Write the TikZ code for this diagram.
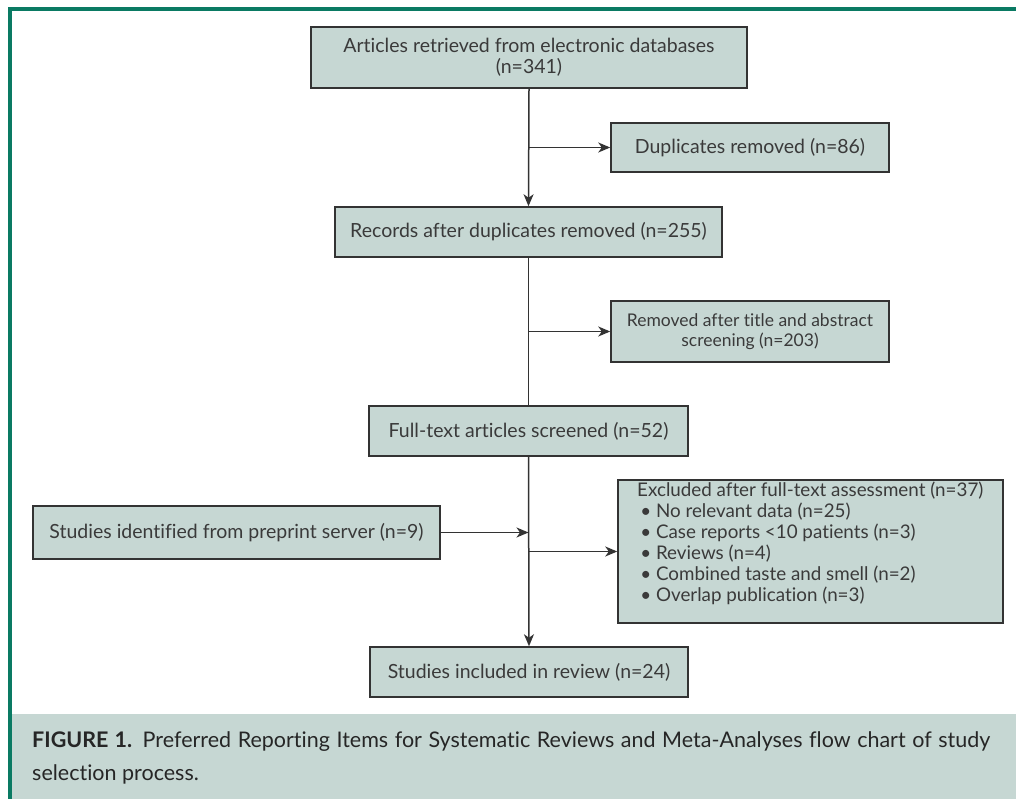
\documentclass[tikz,border=0pt]{standalone}
\usepackage{fontspec}
\setmainfont{Lato}[Ligatures=NoCommon]
\usetikzlibrary{arrows.meta}
\definecolor{boxfill}{HTML}{C6D7D3}
\definecolor{frame}{HTML}{0A7A63}
\definecolor{txt}{HTML}{3A3A3A}
\definecolor{edge}{HTML}{333333}
\tikzset{
  flowbox/.style={draw=edge, line width=1.5pt, fill=boxfill, text=txt, inner sep=0pt,
    font=\fontsize{19.5}{21}\selectfont, align=center},
  conn/.style={draw=edge, line width=1.5pt},
  arr/.style={conn, -{Stealth[length=12pt,width=10pt,inset=3.5pt]}}
}
\begin{document}
\begin{tikzpicture}[x=1pt,y=-1pt]
\useasboundingbox (0,0) rectangle (1016,799);
% caption background
\fill[boxfill] (12,714) rectangle (1016,799);
% frame
\draw[frame, line width=4pt] (10,799) -- (10,9) -- (1016,9);
% boxes
\node[flowbox, minimum width=436pt, minimum height=61pt] (art) at (529,57.5)
  {Articles retrieved from electronic databases\\(n=341)};
\node[flowbox, minimum width=278pt, minimum height=49pt] (dup) at (750,147.5)
  {Duplicates removed (n=86)};
\node[flowbox, minimum width=387pt, minimum height=50pt] (rec) at (528.5,232)
  {Records after duplicates removed (n=255)};
\node[flowbox, minimum width=278pt, minimum height=61pt,
  font=\fontsize{17.5}{20}\selectfont] (rem) at (750,331.5)
  {Removed after title and abstract\\screening (n=203)};
\node[flowbox, minimum width=319pt, minimum height=50pt] (ft) at (528.5,431)
  {Full-text articles screened (n=52)};
\node[flowbox, minimum width=407pt, minimum height=53pt] (pre) at (236.5,532.5)
  {Studies identified from preprint server (n=9)};
\node[flowbox, minimum width=385pt, minimum height=143pt] (exc) at (810.5,551.5) {};
\node[anchor=north west, text=txt, align=left, inner sep=0pt,
  font=\fontsize{18.8}{21}\selectfont] (exct) at (637,482)
  {Excluded after full-text assessment (n=37)\\
   \,\textbullet\ No relevant data (n=25)\\
   \,\textbullet\ Case reports {<}10 patients (n=3)\\
   \,\textbullet\ Reviews (n=4)\\
   \,\textbullet\ Combined taste and smell (n=2)\\
   \,\textbullet\ Overlap publication (n=3)};
\node[flowbox, minimum width=318pt, minimum height=50pt] (inc) at (529,672)
  {Studies included in review (n=24)};
% junction coordinates
\coordinate (j1) at (art.south |- dup.west);
\coordinate (j2) at (rec.south |- rem.west);
\coordinate (j3) at (ft.south |- pre.east);
\coordinate (j4) at (ft.south |- exc.west);
% connectors
\draw[arr] (art.south) -- (rec.north);
\draw[arr] (j1) -- (dup.west);
\draw[conn] (rec.south) -- (ft.north);
\draw[arr] (j2) -- (rem.west);
\draw[arr] (ft.south) -- (inc.north);
\draw[arr] (pre.east) -- (j3);
\draw[arr] (j4) -- (exc.west);
% caption
\node[anchor=north west, text width=958pt, align=justify, inner sep=0pt, text=black!85,
  font=\fontsize{21.5}{33}\selectfont] (cap) at (32,731)
  {\textbf{FIGURE 1.} Preferred Reporting Items for Systematic Reviews and Meta-Analyses flow chart of study selection process.};
\end{tikzpicture}
\end{document}
